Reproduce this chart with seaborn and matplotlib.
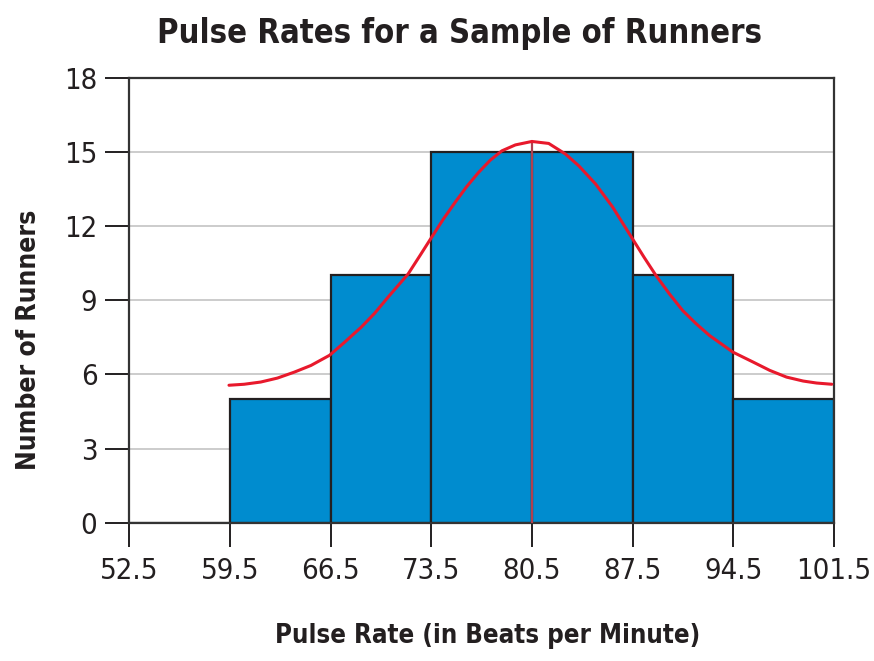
import numpy as np
import pandas as pd
import matplotlib
matplotlib.use("Agg")
import matplotlib.pyplot as plt
import seaborn as sns

# ── data ────────────────────────────────────────────────
bin_edges = [52.5, 59.5, 66.5, 73.5, 80.5, 87.5, 94.5, 101.5]
counts = [0, 5, 10, 15, 15, 10, 5]

# red curve
curve_x = [59.43, 60.48, 61.64, 62.8, 63.97, 65.13, 66.42, 67.47, 68.63, 69.56,
           70.49, 71.89, 72.71, 73.52, 74.34, 75.15, 75.96, 76.78, 77.6, 78.41,
           79.35, 80.5, 81.67, 82.84, 83.77, 84.93, 86.1, 87.5, 88.31, 89.13,
           90.06, 90.99, 91.92, 92.86, 94.48, 95.88, 97.05, 98.21, 99.37, 100.3,
           101.36]
curve_y = [5.56, 5.60, 5.69, 5.85, 6.09, 6.36, 6.77, 7.30, 7.91, 8.47,
           9.12, 10.06, 10.80, 11.54, 12.28, 12.95, 13.59, 14.16, 14.66, 15.04,
           15.28, 15.42, 15.34, 14.91, 14.43, 13.70, 12.78, 11.48, 10.73, 10.0,
           9.26, 8.58, 8.05, 7.57, 6.90, 6.50, 6.16, 5.89, 5.73, 5.65,
           5.60]
mean_x = 80.5
mean_top = 15.42

y_ticks = [0, 3, 6, 9, 12, 15, 18]
x_ticks = bin_edges

sns.set_theme(style="white")
plt.rcParams['font.family'] = ['DejaVu Sans']
plt.rcParams['font.stretch'] = 'condensed'

mids = [(a + b) / 2 for a, b in zip(bin_edges[:-1], bin_edges[1:])]
df = pd.DataFrame({"mid": mids, "count": counts})
curve = pd.DataFrame({"x": curve_x, "y": curve_y})

fig = plt.figure(figsize=(8.74, 6.61), dpi=100)
ax = fig.add_axes([0.148, 0.2092, 0.806, 0.6733])

sns.histplot(data=df, x="mid", weights="count", bins=bin_edges, ax=ax,
             color="#008ccf", alpha=1, edgecolor="#231f20", linewidth=1.6)
ax.vlines(mean_x, 0, mean_top, color="#b0404f", lw=1.6, zorder=3)
sns.lineplot(data=curve, x="x", y="y", ax=ax, color="#e8192c", lw=2.2, zorder=4)

ax.set_xlim(52.5, 101.5)
ax.set_ylim(0, 18)
ax.set_yticks(y_ticks)
ax.set_xticks(x_ticks)
ax.set_xticklabels([f"{v:g}" for v in x_ticks])
ax.yaxis.grid(True, color="#c8c8c8", lw=1.3)
ax.set_axisbelow(True)

for s in ax.spines.values():
    s.set_color("#333333")
    s.set_linewidth(1.6)

ax.tick_params(axis="both", direction="out", length=17, width=1.4,
               color="#231f20", labelsize=21, labelcolor="#231f20", pad=6,
               bottom=True, left=True)
ax.tick_params(axis="x", pad=8)

ax.set_title("Pulse Rates for a Sample of Runners", fontsize=23.5,
             fontweight="bold", color="#231f20", pad=25, x=0.468)
ax.set_xlabel("Pulse Rate (in Beats per Minute)", fontsize=18.5,
              fontweight="bold", color="#231f20", labelpad=27)
ax.xaxis.label.set_x(0.509)
ax.set_ylabel("Number of Runners", fontsize=19, fontweight="bold",
              color="#231f20")
ax.yaxis.set_label_coords(-0.124, 0.41)

fig.savefig("out.png", dpi=100)
